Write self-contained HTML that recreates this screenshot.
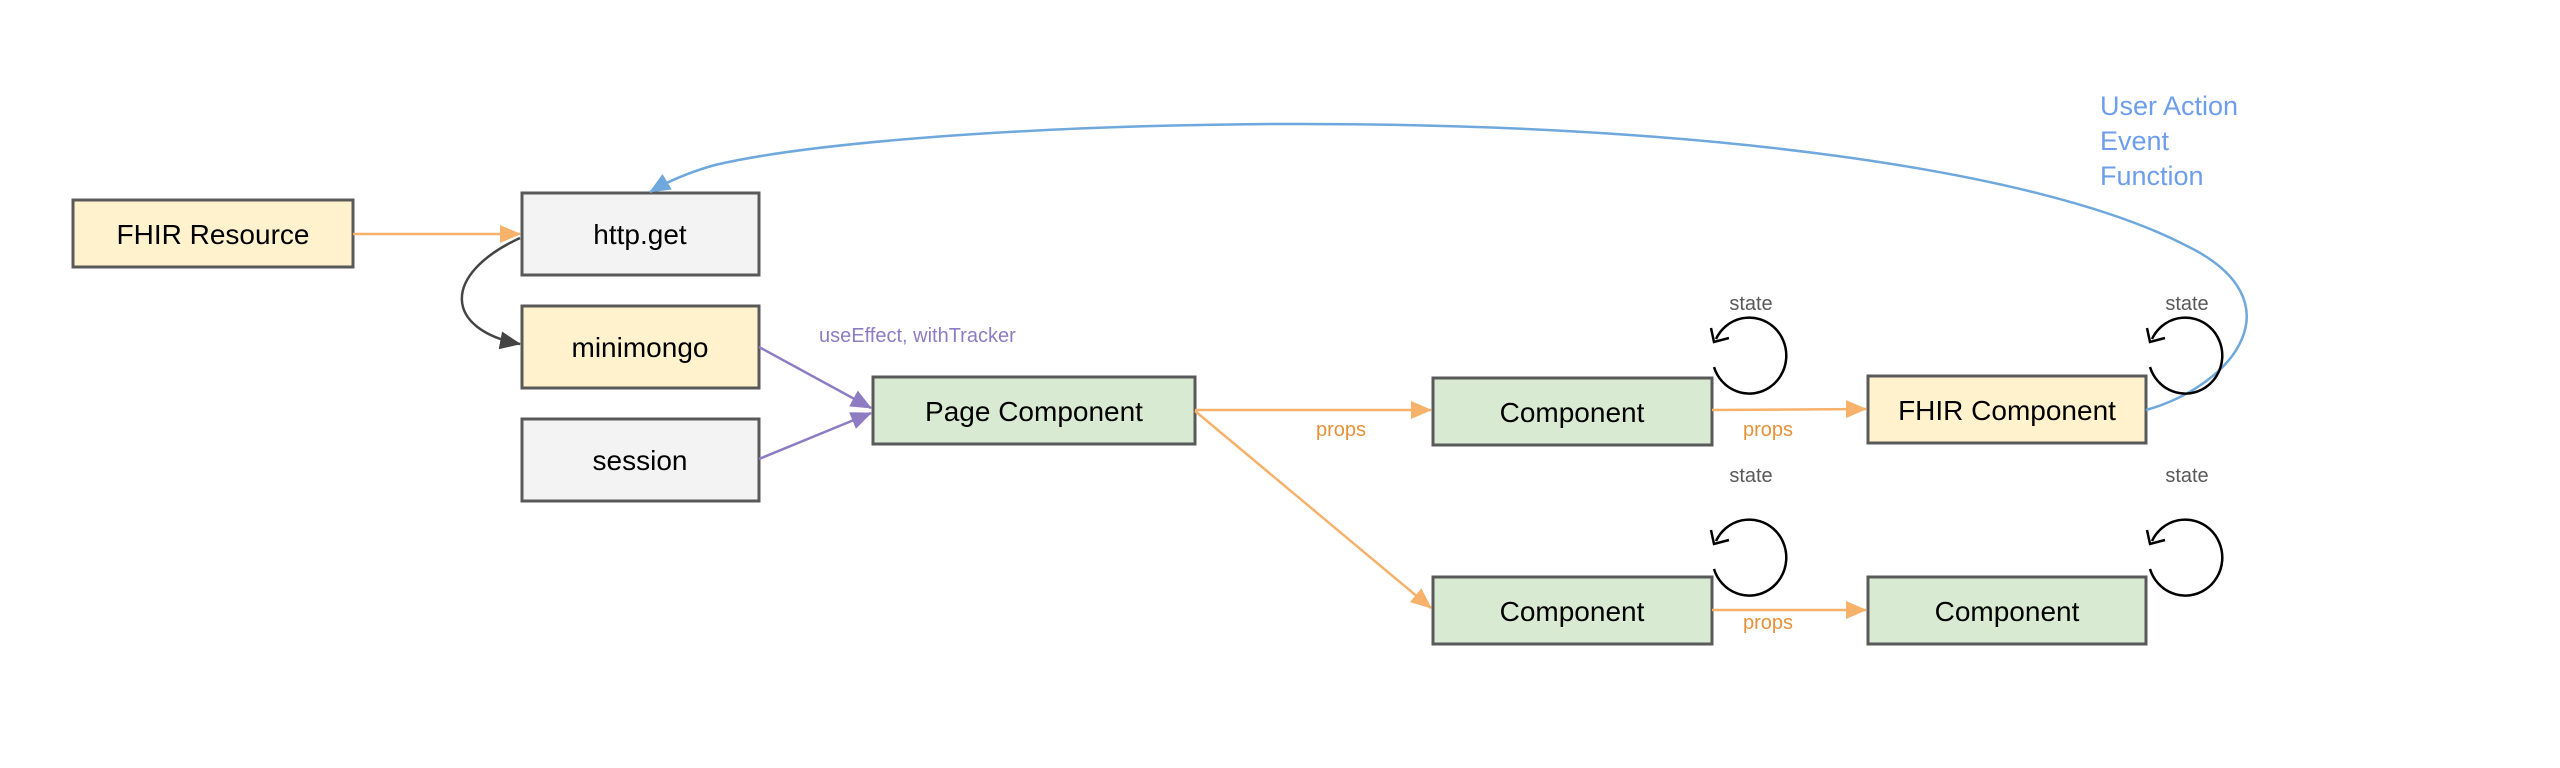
<!DOCTYPE html>
<html><head><meta charset="utf-8"><style>
html,body{margin:0;padding:0;background:#fff;}
svg{display:block;}
text{font-family:"Liberation Sans",Arial,sans-serif;}
</style></head><body>
<svg width="2560" height="768" viewBox="0 0 2560 768" xmlns="http://www.w3.org/2000/svg">
<defs>
<marker id="ao" markerWidth="22" markerHeight="18" refX="20" refY="9" orient="auto" markerUnits="userSpaceOnUse"><path d="M0,0 L21,9 L0,18 Z" fill="#f6b26b"/></marker>
<marker id="ap" markerWidth="22" markerHeight="18" refX="20" refY="9" orient="auto" markerUnits="userSpaceOnUse"><path d="M0,0 L21,9 L0,18 Z" fill="#8e7cc3"/></marker>
<marker id="ab" markerWidth="22" markerHeight="18" refX="20" refY="9" orient="auto" markerUnits="userSpaceOnUse"><path d="M0,0 L21,9 L0,18 Z" fill="#6fa8dc"/></marker>
<marker id="ak" markerWidth="22" markerHeight="18" refX="20" refY="9" orient="auto" markerUnits="userSpaceOnUse"><path d="M0,0 L21,9 L0,18 Z" fill="#444"/></marker>
</defs>
<g stroke="#595959" stroke-width="3">
<rect x="73" y="200" width="280" height="67" fill="#fff2cc"/>
<rect x="522" y="193" width="237" height="82" fill="#f3f3f3"/>
<rect x="522" y="306" width="237" height="82" fill="#fff2cc"/>
<rect x="522" y="419" width="237" height="82" fill="#f3f3f3"/>
<rect x="873" y="377" width="322" height="67" fill="#d9ead3"/>
<rect x="1433" y="378" width="279" height="67" fill="#d9ead3"/>
<rect x="1868" y="376" width="278" height="67" fill="#fff2cc"/>
<rect x="1433" y="577" width="279" height="67" fill="#d9ead3"/>
<rect x="1868" y="577" width="278" height="67" fill="#d9ead3"/>
</g>
<g font-size="28" fill="#000" text-anchor="middle">
<text x="213" y="244">FHIR Resource</text>
<text x="640" y="244">http.get</text>
<text x="640" y="357">minimongo</text>
<text x="640" y="470">session</text>
<text x="1034" y="421">Page Component</text>
<text x="1572" y="422">Component</text>
<text x="2007" y="420">FHIR Component</text>
<text x="1572" y="621">Component</text>
<text x="2007" y="621">Component</text>
</g>
<g fill="none" stroke-width="2.5">
<line x1="353" y1="234" x2="520" y2="234" stroke="#f6b26b" marker-end="url(#ao)"/>
<path d="M520,238 C440,275 445,330 520,344" stroke="#444" marker-end="url(#ak)"/>
<line x1="759" y1="347" x2="871" y2="408" stroke="#8e7cc3" marker-end="url(#ap)"/>
<line x1="759" y1="459" x2="871" y2="413" stroke="#8e7cc3" marker-end="url(#ap)"/>
<line x1="1195" y1="410" x2="1431" y2="410" stroke="#f6b26b" marker-end="url(#ao)"/>
<line x1="1195" y1="411" x2="1431" y2="608" stroke="#f6b26b" marker-end="url(#ao)"/>
<line x1="1712" y1="410" x2="1866" y2="409" stroke="#f6b26b" marker-end="url(#ao)"/>
<line x1="1712" y1="610" x2="1866" y2="610" stroke="#f6b26b" marker-end="url(#ao)"/>
<path d="M2146,410 C2235,385 2300,300 2185,245 C2040,170 1700,122 1273,124 C1000,126 800,145 715,165 C690,172 670,180 650,192" stroke="#6fa8dc" marker-end="url(#ab)"/>
</g>
<g fill="none" stroke="#000" stroke-width="2.5">
<path d="M1714,367 A37,38 0 1 0 1716,339"/><path d="M1711,328 L1714,342 L1729,338"/>
<path d="M2150,367 A37,38 0 1 0 2152,339"/><path d="M2147,328 L2150,342 L2165,338"/>
<path d="M1714,569 A37,38 0 1 0 1716,541"/><path d="M1711,530 L1714,544 L1729,540"/>
<path d="M2150,569 A37,38 0 1 0 2152,541"/><path d="M2147,530 L2150,544 L2165,540"/>
</g>
<g font-size="20" fill="#595959" text-anchor="middle">
<text x="1751" y="310">state</text>
<text x="2187" y="310">state</text>
<text x="1751" y="482">state</text>
<text x="2187" y="482">state</text>
</g>
<g font-size="20" fill="#e69138" text-anchor="middle">
<text x="1341" y="436">props</text>
<text x="1768" y="436">props</text>
<text x="1768" y="629">props</text>
</g>
<text x="819" y="342" font-size="20" fill="#8e7cc3">useEffect, withTracker</text>
<g font-size="27" fill="#6d9eeb">
<text x="2100" y="115">User Action</text>
<text x="2100" y="150">Event</text>
<text x="2100" y="185">Function</text>
</g>
</svg>
</body></html>
